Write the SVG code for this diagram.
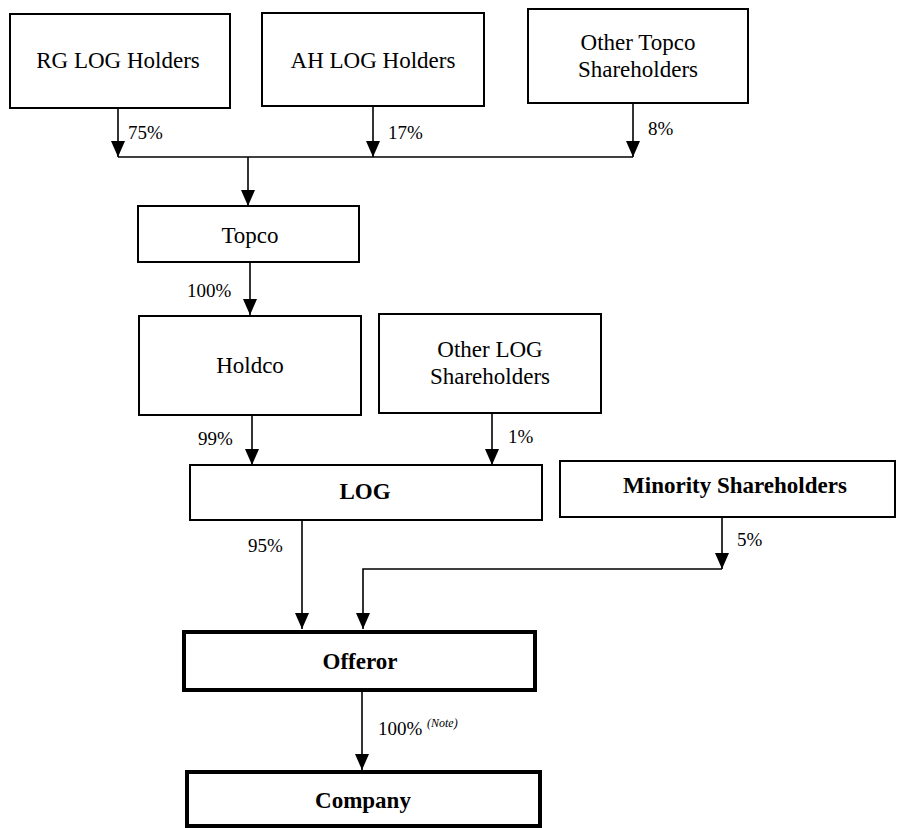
<svg xmlns="http://www.w3.org/2000/svg" width="897" height="828" viewBox="0 0 897 828">
<style>
.box{fill:#fff;stroke:#000;stroke-width:2}
.thick{fill:#fff;stroke:#000;stroke-width:4}
text{font-family:'Liberation Serif','DejaVu Serif','Noto Serif',serif;fill:#000}
.t{font-size:23px;text-anchor:middle}
.b{font-weight:bold}
.p{font-size:19px}
.n{font-size:12px;font-style:italic}
.c{fill:none;stroke:#000;stroke-width:1.6}
</style>
<defs>
<marker id="ah" markerUnits="userSpaceOnUse" markerWidth="16" markerHeight="14" viewBox="0 0 16 14" refX="16" refY="7" orient="auto">
<path d="M0,0 L16,7 L0,14 z" fill="#000"/>
</marker>
</defs>
<g id="connectors">
<line class="c" x1="118" y1="108" x2="118" y2="157" marker-end="url(#ah)"/>
<line class="c" x1="373" y1="106" x2="373" y2="157" marker-end="url(#ah)"/>
<line class="c" x1="633" y1="103" x2="633" y2="157" marker-end="url(#ah)"/>
<line class="c" x1="118" y1="157" x2="633" y2="157"/>
<line class="c" x1="248" y1="157" x2="248" y2="206" marker-end="url(#ah)"/>
<line class="c" x1="250" y1="262" x2="250" y2="315" marker-end="url(#ah)"/>
<line class="c" x1="252" y1="415" x2="252" y2="465" marker-end="url(#ah)"/>
<line class="c" x1="492" y1="413" x2="492" y2="465" marker-end="url(#ah)"/>
<line class="c" x1="302" y1="520" x2="302" y2="629" marker-end="url(#ah)"/>
<line class="c" x1="722" y1="517" x2="722" y2="569" marker-end="url(#ah)"/>
<polyline class="c" points="722,569 363,569 363,629" marker-end="url(#ah)"/>
<line class="c" x1="362" y1="690" x2="362" y2="770" marker-end="url(#ah)"/>
<text class="p" x="128" y="139">75%</text>
<text class="p" x="388" y="139">17%</text>
<text class="p" x="648" y="135">8%</text>
<text class="p" x="187" y="297">100%</text>
<text class="p" x="198" y="445">99%</text>
<text class="p" x="508" y="443">1%</text>
<text class="p" x="248" y="552">95%</text>
<text class="p" x="737" y="546">5%</text>
<text class="p" x="378" y="735">100%</text>
<text class="n" x="427" y="727">(Note)</text>
</g>
<g id="rg"><rect class="box" x="10" y="14" width="220" height="94"/><text class="t" x="118" y="68">RG LOG Holders</text></g>
<g id="ah-holders"><rect class="box" x="262" y="13" width="222" height="93"/><text class="t" x="373" y="68">AH LOG Holders</text></g>
<g id="other-topco"><rect class="box" x="528" y="9" width="220" height="94"/><text class="t" x="638" y="50">Other Topco</text><text class="t" x="638" y="77">Shareholders</text></g>
<g id="topco"><rect class="box" x="138" y="206" width="221" height="56"/><text class="t" x="250" y="243">Topco</text></g>
<g id="holdco"><rect class="box" x="139" y="316" width="222" height="99"/><text class="t" x="250" y="373">Holdco</text></g>
<g id="other-log"><rect class="box" x="379" y="314" width="222" height="99"/><text class="t" x="490" y="357">Other LOG</text><text class="t" x="490" y="384">Shareholders</text></g>
<g id="log"><rect class="box" x="190" y="465" width="352" height="55"/><text class="t b" x="365" y="499">LOG</text></g>
<g id="minority"><rect class="box" x="560" y="461" width="335" height="56"/><text class="t b" x="735" y="493">Minority Shareholders</text></g>
<g id="offeror"><rect class="thick" x="184" y="632" width="351" height="58"/><text class="t b" x="360" y="669">Offeror</text></g>
<g id="company"><rect class="thick" x="187" y="772" width="353" height="54"/><text class="t b" x="363" y="808">Company</text></g>
</svg>
